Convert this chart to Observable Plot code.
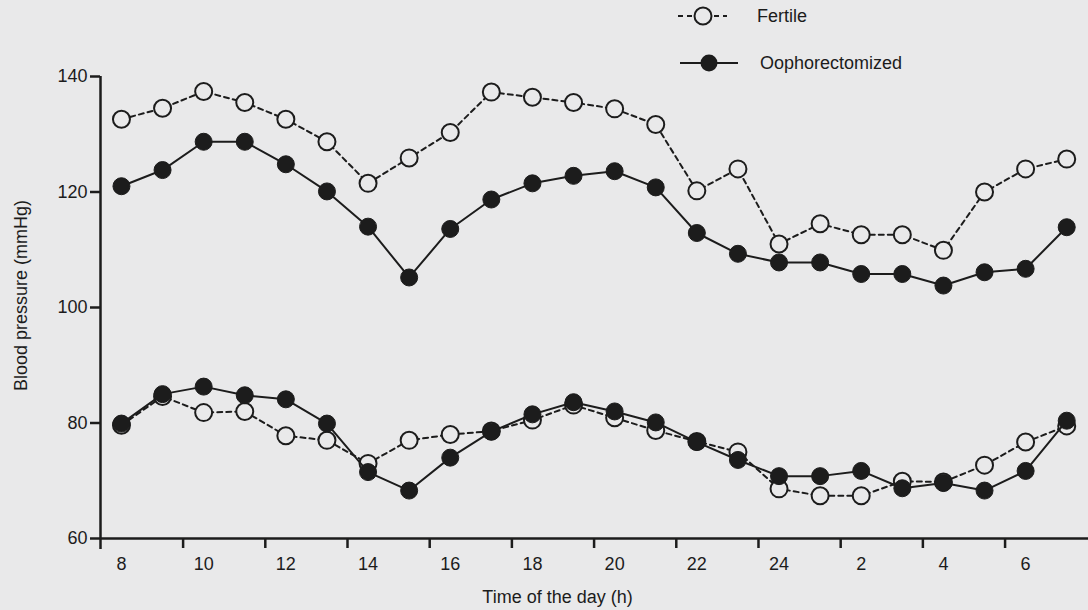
<!DOCTYPE html>
<html>
<head>
<meta charset="utf-8">
<script src="https://cdn.jsdelivr.net/npm/d3@7"></script>
<script src="https://cdn.jsdelivr.net/npm/@observablehq/plot@0.6"></script>
<style>
  html, body { margin: 0; padding: 0; background: #e9e9ea; }
  #wrap { position: relative; width: 1088px; height: 610px; overflow: hidden; }
  #legend { position: absolute; left: 660px; top: 0; }
</style>
</head>
<body>
<div id="wrap"></div>
<script>
// Hours of the day (8 h .. 7 h next morning; values > 24 are the next day)
const hours = [8, 9, 10, 11, 12, 13, 14, 15, 16, 17, 18, 19, 20, 21, 22, 23, 24, 25, 26, 27, 28, 29, 30, 31];

// Systolic (upper curves)
const fertileSys = [132.6, 134.5, 137.4, 135.5, 132.6, 128.7, 121.5, 125.9, 130.3, 137.3, 136.4, 135.5, 134.4, 131.7, 120.2, 124.0, 111.0, 114.5, 112.6, 112.6, 109.9, 120.0, 124.0, 125.7];
const oophSys    = [121.0, 123.8, 128.7, 128.7, 124.8, 120.1, 114.0, 105.2, 113.6, 118.7, 121.5, 122.8, 123.6, 120.8, 112.9, 109.3, 107.8, 107.8, 105.8, 105.8, 103.8, 106.1, 106.7, 113.9];

// Diastolic (lower curves)
const fertileDia = [79.6, 84.6, 81.8, 82.0, 77.8, 77.0, 73.0, 77.0, 78.0, 78.6, 80.5, 83.1, 80.9, 78.7, 76.8, 75.0, 68.6, 67.4, 67.4, 69.9, 69.8, 72.7, 76.7, 79.5];
const oophDia    = [79.9, 85.0, 86.3, 84.8, 84.1, 79.9, 71.5, 68.3, 74.0, 78.5, 81.5, 83.6, 82.0, 80.1, 76.7, 73.6, 70.8, 70.8, 71.7, 68.7, 69.6, 68.3, 71.7, 80.4];

// Axis ticks
const yTicks = [60, 80, 100, 120, 140];
const xLabelHours = [8, 10, 12, 14, 16, 18, 20, 22, 24, 26, 28, 30];
const xTickMarks = [9.5, 11.5, 13.5, 15.5, 17.5, 19.5, 21.5, 23.5, 25.5, 27.5, 29.5];

const seriesNames = ["Fertile", "Oophorectomized"];
const xTitle = "Time of the day (h)";
const yTitle = "Blood pressure (mmHg)";

const BG = "#e9e9ea";
const INK = "#1c1c1c";
const FONT = "'Liberation Sans', Arial, Helvetica, sans-serif";

const xDomain = [7.49, 31.53];
const yDomain = [60, 140];

function rows(values, group, kind) {
  return hours.map((h, i) => ({hour: h, value: values[i], group, kind}));
}
const fertile = [...rows(fertileSys, "Fertile", "sys"), ...rows(fertileDia, "Fertile", "dia")];
const ooph = [...rows(oophSys, "Oophorectomized", "sys"), ...rows(oophDia, "Oophorectomized", "dia")];

const chart = Plot.plot({
  width: 1088,
  height: 610,
  marginLeft: 100,
  marginRight: 0,
  marginTop: 76,
  marginBottom: 72,
  style: {background: "transparent", fontFamily: FONT, fontSize: "18px", color: INK, overflow: "visible"},
  x: {domain: xDomain},
  y: {domain: yDomain},
  marks: [
    // axes
    Plot.axisY(yTicks, {tickSize: 10, tickPadding: 3, strokeWidth: 2.5, stroke: INK, fill: INK, fontSize: 18, label: null}),
    Plot.axisX(xLabelHours, {tickSize: 0, tickPadding: 19, fontSize: 18, fill: INK, label: null,
      tickFormat: d => String(d > 24 ? d - 24 : d)}),
    Plot.axisX(xTickMarks, {tickSize: 10, tickFormat: () => "", strokeWidth: 2.5, stroke: INK, label: null}),
    Plot.ruleY([yDomain[0]], {stroke: INK, strokeWidth: 2.5}),
    Plot.ruleX([xDomain[0]], {y1: yDomain[0] - 1.9, y2: yDomain[1], stroke: INK, strokeWidth: 2.5}),
    // titles
    Plot.text([xTitle], {frameAnchor: "bottom", dx: -37, dy: 64, fontSize: 18, fill: INK}),
    Plot.text([yTitle], {frameAnchor: "left", textAnchor: "middle", rotate: -90, dx: -79, dy: -12, fontSize: 18, fill: INK}),
    // Fertile: dashed line, open circles
    Plot.line(fertile, {x: "hour", y: "value", z: "kind", stroke: INK, strokeWidth: 2, strokeDasharray: "5,4"}),
    Plot.dot(fertile, {x: "hour", y: "value", r: 8.5, fill: BG, stroke: INK, strokeWidth: 2}),
    // Oophorectomized: solid line, filled circles
    Plot.line(ooph, {x: "hour", y: "value", z: "kind", stroke: INK, strokeWidth: 2}),
    Plot.dot(ooph, {x: "hour", y: "value", r: 8.5, fill: INK, stroke: INK, strokeWidth: 1})
  ]
});
document.getElementById("wrap").appendChild(chart);

// Legend (overlaid at top right)
const lg = d3.select("#wrap").append("svg").attr("id", "legend")
  .attr("width", 260).attr("height", 90)
  .style("font-family", FONT).style("font-size", "18px");
// Fertile
lg.append("line").attr("x1", 18).attr("x2", 67).attr("y1", 16).attr("y2", 16)
  .attr("stroke", INK).attr("stroke-width", 2).attr("stroke-dasharray", "5,4");
lg.append("circle").attr("cx", 43).attr("cy", 16).attr("r", 8.5)
  .attr("fill", BG).attr("stroke", INK).attr("stroke-width", 2);
lg.append("text").attr("x", 97).attr("y", 17).attr("dominant-baseline", "middle")
  .attr("fill", INK).text(seriesNames[0]);
// Oophorectomized
lg.append("line").attr("x1", 20).attr("x2", 78).attr("y1", 63).attr("y2", 63)
  .attr("stroke", INK).attr("stroke-width", 2);
lg.append("circle").attr("cx", 49).attr("cy", 63).attr("r", 8.5).attr("fill", INK);
lg.append("text").attr("x", 100).attr("y", 64).attr("dominant-baseline", "middle")
  .attr("fill", INK).text(seriesNames[1]);
</script>
</body>
</html>
